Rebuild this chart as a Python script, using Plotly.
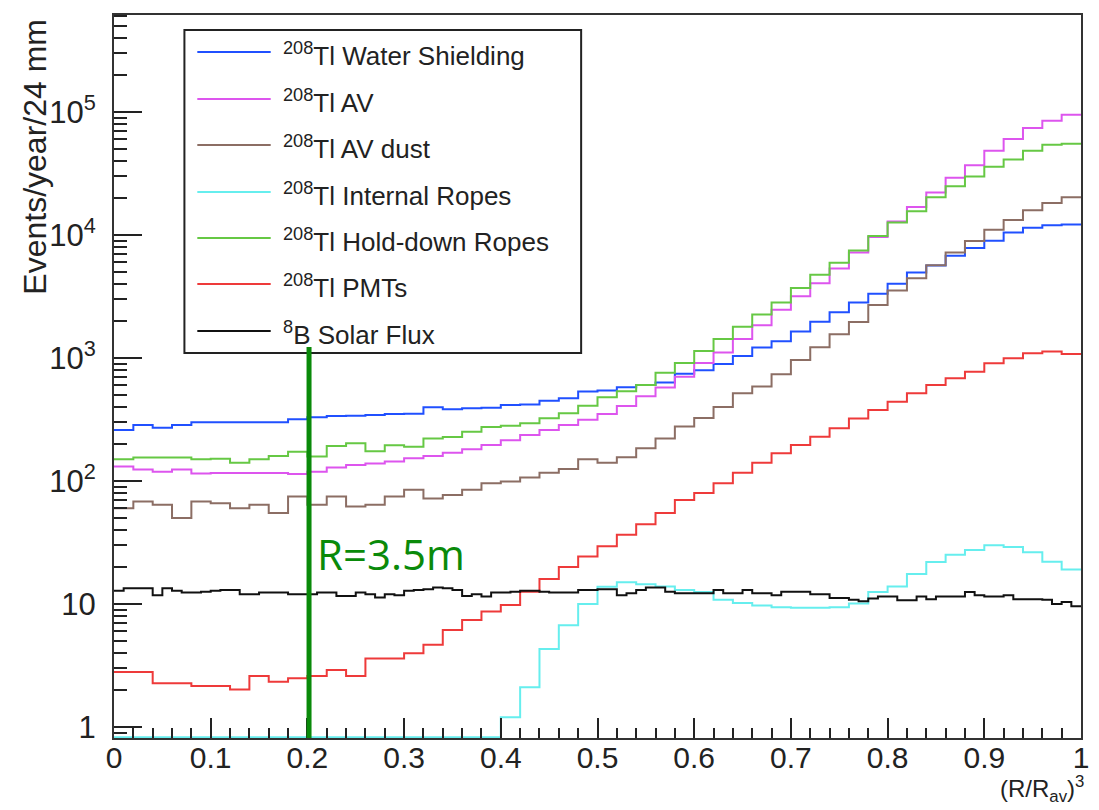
import numpy as np
import plotly.graph_objects as go

# ---------------- data ----------------
N_BINS = 50          # 0.02-wide bins on (R/R_av)^3
N_BINS_B8 = 100      # 0.01-wide bins for the 8B curve

water_shielding = [260, 285, 271, 285, 300, 300, 300, 300, 300, 318,
                   330, 338, 340, 345, 350, 352, 398, 383, 390, 395,
                   415, 420, 450, 470, 535, 545, 578, 604, 633, 745,
                   794, 893, 1040, 1216, 1370, 1641, 1974, 2360, 2830, 3330,
                   4030, 4960, 5650, 6800, 7860, 9000, 10500, 11500, 12000, 12200]

av = [131, 124, 119, 124, 115, 116, 116, 116, 116, 114,
      119, 129, 135, 139, 144, 153, 160, 170, 181, 196,
      215, 237, 260, 285, 315, 350, 408, 490, 577, 705,
      910, 1110, 1432, 1846, 2467, 3185, 4067, 5340, 7210, 9640,
      12900, 16900, 22200, 29200, 37000, 48500, 60400, 74400, 85300, 95100]

av_dust = [60, 68, 64, 50, 68, 66, 60, 64, 55, 75,
           64, 75, 62, 64, 75, 85, 72, 77, 85, 96,
           99, 107, 117, 125, 150, 141, 156, 185, 222, 278,
           326, 399, 518, 586, 737, 964, 1222, 1560, 1968, 2704,
           3550, 4455, 5690, 7210, 8970, 11050, 13250, 15900, 18200, 20300]

internal_ropes = [0, 0, 0, 0, 0, 0, 0, 0, 0, 0,
                  0, 0, 0, 0, 0, 0, 0, 0, 0, 0,
                  1.2, 2.1, 4.3, 6.7, 10.0, 13.8, 15.0, 14.5, 13.9, 13.0,
                  12.5, 10.8, 10.2, 9.7, 9.4, 9.3, 9.3, 9.4, 10.1, 12.5,
                  13.9, 17.5, 21.9, 25.1, 27.5, 30.1, 29.0, 26.3, 22.0, 19.1]

holddown_ropes = [150, 155, 155, 155, 150, 152, 141, 150, 160, 173,
                  158, 193, 203, 175, 195, 190, 222, 228, 252, 275,
                  282, 295, 324, 356, 410, 481, 537, 604, 759, 910,
                  1141, 1432, 1797, 2256, 2830, 3715, 4750, 5950, 7480, 9820,
                  12670, 15600, 20300, 25000, 30000, 36000, 41200, 48500, 54200, 55200]

pmts = [2.8, 2.8, 2.27, 2.27, 2.15, 2.15, 2.02, 2.6, 2.33, 2.49,
        2.6, 2.9, 2.6, 3.6, 3.6, 3.97, 4.65, 6.15, 7.4, 8.7,
        9.8, 12.6, 16.0, 20.0, 24.3, 29.5, 36.5, 44.5, 55, 70,
        80, 96, 117, 141, 168, 196, 229, 268, 323, 378,
        442, 517, 603, 684, 774, 906, 995, 1093, 1128, 1079]

b8_solar = [12.8, 13.4, 13.4, 13.4, 11.8, 13.4, 12.8, 12.4, 12.4, 12.6,
            12.8, 13.0, 13.0, 12.0, 12.0, 12.4, 12.4, 12.4, 12.0, 12.0,
            12.0, 12.4, 12.4, 11.6, 11.6, 12.4, 12.0, 11.3, 12.0, 11.8,
            12.8, 13.0, 13.2, 13.6, 13.4, 13.0, 11.6, 12.0, 11.5, 12.4,
            12.4, 12.6, 12.8, 12.8, 12.6, 12.4, 12.4, 12.4, 13.0, 13.0,
            13.2, 13.2, 11.8, 12.2, 13.0, 13.6, 13.6, 12.6, 12.2, 12.2,
            12.2, 12.2, 13.0, 12.2, 12.2, 13.0, 12.2, 12.2, 11.8, 12.6,
            12.6, 12.6, 12.0, 12.0, 11.2, 11.2, 10.8, 10.5, 11.1, 11.5,
            11.5, 10.7, 10.7, 11.5, 10.9, 11.5, 11.5, 11.5, 12.5, 11.8,
            11.5, 11.5, 11.8, 10.9, 10.9, 10.9, 10.8, 10.0, 10.4, 9.6]

series_names = ["<sup>208</sup>Tl Water Shielding", "<sup>208</sup>Tl AV",
                "<sup>208</sup>Tl AV dust", "<sup>208</sup>Tl Internal Ropes",
                "<sup>208</sup>Tl Hold-down Ropes", "<sup>208</sup>Tl PMTs",
                "<sup>8</sup>B Solar Flux"]
series_values = [water_shielding, av, av_dust, internal_ropes,
                 holddown_ropes, pmts, b8_solar]
series_colors = ["#2050ff", "#dd55ee", "#8c6e64", "#66eeee",
                 "#66c844", "#ee3a3a", "#111111"]

y_tickvals = [1, 10, 100, 1000, 10000, 100000]
y_ticktext = ["1", "10", "10<sup>2</sup>", "10<sup>3</sup>", "10<sup>4</sup>", "10<sup>5</sup>"]

Y_LOG_MIN, Y_LOG_MAX = -0.09, 5.79
FONT = "Liberation Sans, Arial, Helvetica, sans-serif"

fig = go.Figure()

for name, vals, col in zip(series_names, series_values, series_colors):
    n = len(vals)
    edges = np.linspace(0, 1, n + 1)
    y = np.array(vals, dtype=float)
    # ROOT draws empty bins on the frame bottom in log scale
    y = np.where(y <= 0, 10 ** (Y_LOG_MIN + 0.006), y)
    ys = np.append(y, y[-1])
    fig.add_trace(go.Scatter(x=edges, y=ys, mode="lines", line_shape="hv",
                             line=dict(color=col, width=2), name=name,
                             showlegend=False, hoverinfo="skip"))

# ---------------- manual ROOT-style legend ----------------
PW, PH, ML, MB = 975.0, 723.0, 114.0, 738.0
def px_x(p):
    return (p - ML) / PW
def px_y(p):
    return (MB - p) / PH

shapes = [dict(type="rect", xref="paper", yref="paper",
               x0=px_x(185), x1=px_x(585), y0=px_y(353), y1=px_y(30),
               line=dict(color="#222", width=2), fillcolor="white", layer="above")]
annotations = []
entry_y = [52, 99, 145, 192, 238, 284, 331]
for name, col, yy in zip(series_names, series_colors, entry_y):
    shapes.append(dict(type="line", xref="paper", yref="paper",
                       x0=px_x(198), x1=px_x(272), y0=px_y(yy), y1=px_y(yy),
                       line=dict(color=col, width=2), layer="above"))
    annotations.append(dict(xref="paper", yref="paper", x=px_x(282), y=px_y(yy + 2),
                            xanchor="left", yanchor="middle", showarrow=False,
                            text=name, font=dict(family=FONT, size=26, color="#222")))

# green R=3.5m marker
shapes.append(dict(type="line", xref="x", yref="paper", x0=0.2017, x1=0.2017,
                   y0=0, y1=px_y(347), line=dict(color="#0a8a0a", width=5), layer="above"))
annotations.append(dict(xref="paper", yref="paper", x=px_x(317), y=px_y(553),
                        xanchor="left", yanchor="middle", showarrow=False,
                        text="R=3.5m", font=dict(family="Open Sans, sans-serif", size=42, color="#0a8a0a")))

# axis titles (ROOT aligns them to the axis end)
annotations.append(dict(xref="paper", yref="paper", x=px_x(34), y=px_y(17),
                        xanchor="center", yanchor="top", textangle=-90, showarrow=False,
                        text="Events/year/24 mm", font=dict(family=FONT, size=32, color="#222")))
annotations.append(dict(xref="paper", yref="paper", x=px_x(1094), y=px_y(789),
                        xanchor="right", yanchor="middle", showarrow=False,
                        text="(R/R<sub>av</sub>)<sup>3</sup>", font=dict(family=FONT, size=24, color="#222")))

minor_y = [k * 10 ** e for e in range(-1, 6) for k in range(2, 10)
           if Y_LOG_MIN < np.log10(k * 10 ** e) < Y_LOG_MAX]

fig.update_layout(
    width=1099, height=810,
    margin=dict(l=114, r=10, t=15, b=72),
    paper_bgcolor="white", plot_bgcolor="white",
    shapes=shapes, annotations=annotations,
    font=dict(family=FONT, color="#222"),
    xaxis=dict(range=[0, 1], dtick=0.1, tick0=0, showgrid=False, zeroline=False,
               ticks="inside", ticklen=20, tickwidth=1.5, tickcolor="#222",
               minor=dict(dtick=0.02, ticks="inside", ticklen=10, tickwidth=1.5, tickcolor="#222", showgrid=False),
               showline=True, linecolor="#333", linewidth=2, mirror=True,
               tickfont=dict(family=FONT, size=30, color="#222"), ticklabelstandoff=-8),
    yaxis=dict(type="log", range=[Y_LOG_MIN, Y_LOG_MAX], tickvals=y_tickvals, ticktext=y_ticktext,
               showgrid=False, zeroline=False,
               ticks="inside", ticklen=28, tickwidth=1.5, tickcolor="#222",
               minor=dict(tickvals=minor_y, ticks="inside", ticklen=13, tickwidth=1.5, tickcolor="#222", showgrid=False),
               showline=True, linecolor="#333", linewidth=2, mirror=True,
               tickfont=dict(family=FONT, size=31, color="#222"), ticklabelstandoff=10),
)

fig.write_html("out.html")
